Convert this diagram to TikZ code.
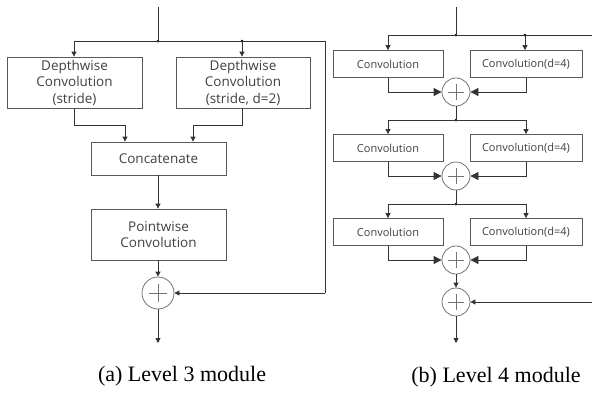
\documentclass[tikz,border=0pt]{standalone}
\usepackage{fontspec}
\setmainfont{Liberation Serif}
\newfontfamily\boxfont{Open Sans}
\usetikzlibrary{arrows.meta,calc}
\tikzset{
  box/.style={draw=black!65, line width=0.8pt, rectangle, inner sep=0pt, align=center, font=\boxfont\fontsize{13.5}{16.5}\selectfont, text=black!75},
  sbox/.style={box, font=\boxfont\fontsize{11}{13}\selectfont},
  line/.style={draw=black!80, line width=0.8pt},
  arr/.style={line, -{Triangle[width=5pt,length=5pt]}},
  barr/.style={line, -{Triangle[width=8pt,length=8pt]}},
  sumnode/.style={circle, draw=black!55, line width=0.8pt, minimum size=#1, inner sep=0pt,
    path picture={\draw[black!55, line width=0.7pt]
      ($(path picture bounding box.center)+(-0.55*#1/2,0)$) -- ($(path picture bounding box.center)+(0.55*#1/2,0)$)
      ($(path picture bounding box.center)+(0,-0.55*#1/2)$) -- ($(path picture bounding box.center)+(0,0.55*#1/2)$);}},
  dot/.style={circle, fill=black, inner sep=0pt, minimum size=3pt},
  captext/.style={font=\fontsize{22}{26}\selectfont}
}
\begin{document}
\begin{tikzpicture}[x=1pt,y=-1pt]
\useasboundingbox (0,0) rectangle (592,392);
% ---------- (a) ----------
\coordinate (ain) at (158,7);
\node[dot] (aj1) at (158,41) {};
\node[dot] (aj2) at (242,41) {};
\coordinate (ar1) at (325,41);
\coordinate (ar2) at (325,293);
\node[box, minimum width=135pt, minimum height=51pt] (dw1) at (74.5,82.5) {Depthwise\\Convolution\\(stride)};
\node[box, minimum width=134pt, minimum height=51pt] (dw2) at (243,82.5) {Depthwise\\Convolution\\(stride, d=2)};
\node[box, minimum width=135pt, minimum height=33pt] (cat) at (158.5,158.5) {Concatenate};
\node[box, minimum width=135pt, minimum height=51pt] (pw) at (158.5,234.5) {Pointwise\\Convolution};
\node[sumnode=32pt] (asum) at (158,293) {};
\coordinate (aout) at (158,343);
\coordinate (c1) at (74,125);
\coordinate (c2) at (125,125);
\coordinate (c3) at (242,125);
\coordinate (c4) at (193,125);
\draw[line] (ain) -- (aj1.center);
\draw[arr] (aj1.center) -| (dw1.north -| c1);
\draw[line] (aj1.center) -- (ar1) -- (ar2);
\draw[arr] (aj2.center) -- (dw2.north -| aj2);
\draw[arr] (dw1.south -| c1) -- (c1) -- (c2) -- (cat.north -| c2);
\draw[arr] (dw2.south -| c3) -- (c3) -- (c4) -- (cat.north -| c4);
\draw[arr] (cat.south -| ain) -- (pw.north -| ain);
\draw[arr] (pw.south -| ain) -- (asum.north);
\draw[arr] (ar2) -- (asum.east);
\draw[arr] (asum.south) -- (aout);
\node[captext] (capa) at (182,376) {(a) Level 3 module};
% ---------- (b) ----------
\coordinate (bin) at (456,7);
\node[dot] (bj1) at (456,35) {};
\node[dot] (bj1r) at (525,35) {};
\coordinate (bedge) at (592,35);
\draw[line] (bin) -- (bj1.center);
\draw[line] (bj1.center) -- (bedge);
% row 1
\node[sbox, minimum width=110pt, minimum height=27pt] (l1) at (388,64) {Convolution};
\node[sbox, minimum width=112pt, minimum height=27pt] (r1) at (526,64) {Convolution(d=4)};
\node[sumnode=28pt] (s1) at (456,92) {};
\draw[arr] (bj1.center) -| (l1.north);
\draw[arr] (bj1r.center) -- (r1.north -| bj1r);
\draw[barr] (l1.south) |- (s1.west);
\draw[barr] (r1.south) |- (s1.east);
% row 2
\node[dot] (bj2) at (456,120) {};
\node[sbox, minimum width=110pt, minimum height=27pt] (l2) at (388,148) {Convolution};
\node[sbox, minimum width=112pt, minimum height=27pt] (r2) at (526,148) {Convolution(d=4)};
\node[sumnode=28pt] (s2) at (456,176) {};
\draw[line] (s1.south) -- (bj2.center);
\draw[arr] (bj2.center) -| (l2.north);
\draw[arr] (bj2.center) -| (r2.north);
\draw[barr] (l2.south) |- (s2.west);
\draw[barr] (r2.south) |- (s2.east);
% row 3
\node[dot] (bj3) at (456,204) {};
\node[sbox, minimum width=110pt, minimum height=27pt] (l3) at (388,232) {Convolution};
\node[sbox, minimum width=112pt, minimum height=27pt] (r3) at (526,232) {Convolution(d=4)};
\node[sumnode=28pt] (s3) at (456,260) {};
\draw[line] (s2.south) -- (bj3.center);
\draw[arr] (bj3.center) -| (l3.north);
\draw[arr] (bj3.center) -| (r3.north);
\draw[barr] (l3.south) |- (s3.west);
\draw[barr] (r3.south) |- (s3.east);
% final sum
\node[sumnode=28pt] (s4) at (456,302) {};
\coordinate (bres) at (592,302);
\coordinate (bout) at (456,343);
\draw[arr] (s3.south) -- (s4.north);
\draw[arr] (bres) -- (s4.east);
\draw[arr] (s4.south) -- (bout);
\node[captext] (capb) at (496,377) {(b) Level 4 module};
\end{tikzpicture}
\end{document}
